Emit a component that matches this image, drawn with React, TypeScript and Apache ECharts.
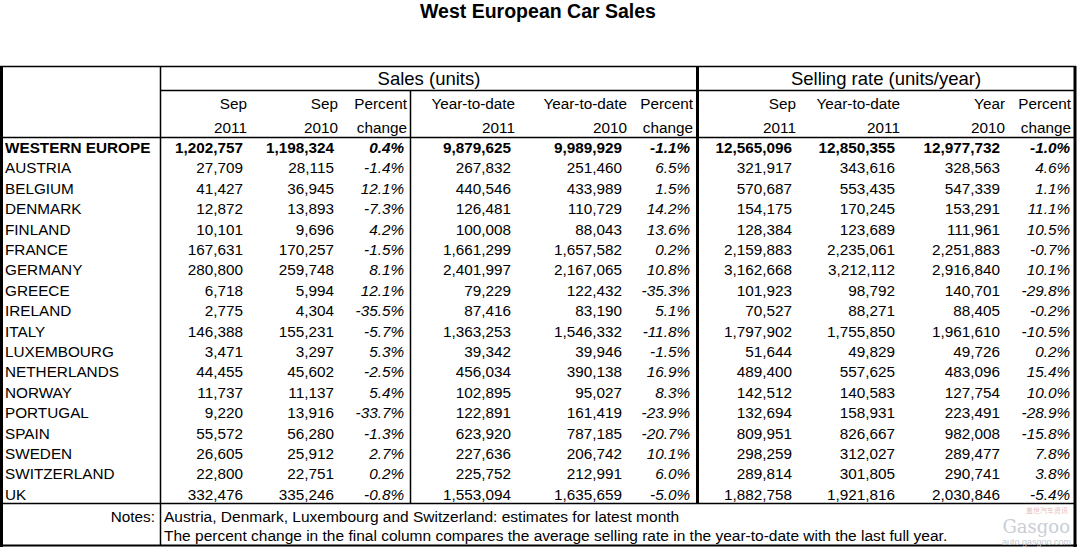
import React, { useEffect, useRef } from "react";
import * as echarts from "echarts";

// ---- Data ----
const countries = [
  "WESTERN EUROPE", "AUSTRIA", "BELGIUM", "DENMARK", "FINLAND", "FRANCE", "GERMANY", "GREECE",
  "IRELAND", "ITALY", "LUXEMBOURG", "NETHERLANDS", "NORWAY", "PORTUGAL", "SPAIN", "SWEDEN",
  "SWITZERLAND", "UK",
];
const salesSep2011 = [1202757, 27709, 41427, 12872, 10101, 167631, 280800, 6718, 2775, 146388, 3471, 44455, 11737, 9220, 55572, 26605, 22800, 332476];
const salesSep2010 = [1198324, 28115, 36945, 13893, 9696, 170257, 259748, 5994, 4304, 155231, 3297, 45602, 11137, 13916, 56280, 25912, 22751, 335246];
const salesPct = [0.4, -1.4, 12.1, -7.3, 4.2, -1.5, 8.1, 12.1, -35.5, -5.7, 5.3, -2.5, 5.4, -33.7, -1.3, 2.7, 0.2, -0.8];
const ytd2011 = [9879625, 267832, 440546, 126481, 100008, 1661299, 2401997, 79229, 87416, 1363253, 39342, 456034, 102895, 122891, 623920, 227636, 225752, 1553094];
const ytd2010 = [9989929, 251460, 433989, 110729, 88043, 1657582, 2167065, 122432, 83190, 1546332, 39946, 390138, 95027, 161419, 787185, 206742, 212991, 1635659];
const ytdPct = [-1.1, 6.5, 1.5, 14.2, 13.6, 0.2, 10.8, -35.3, 5.1, -11.8, -1.5, 16.9, 8.3, -23.9, -20.7, 10.1, 6.0, -5.0];
const rateSep2011 = [12565096, 321917, 570687, 154175, 128384, 2159883, 3162668, 101923, 70527, 1797902, 51644, 489400, 142512, 132694, 809951, 298259, 289814, 1882758];
const rateYtd2011 = [12850355, 343616, 553435, 170245, 123689, 2235061, 3212112, 98792, 88271, 1755850, 49829, 557625, 140583, 158931, 826667, 312027, 301805, 1921816];
const rateYear2010 = [12977732, 328563, 547339, 153291, 111961, 2251883, 2916840, 140701, 88405, 1961610, 49726, 483096, 127754, 223491, 982008, 289477, 290741, 2030846];
const ratePct = [-1.0, 4.6, 1.1, 11.1, 10.5, -0.7, 10.1, -29.8, -0.2, -10.5, 0.2, 15.4, 10.0, -28.9, -15.8, 7.8, 3.8, -5.4];

const title = "West European Car Sales";
const groupHeaders = ["Sales (units)", "Selling rate (units/year)"];
const headerLine1 = ["Sep", "Sep", "Percent", "Year-to-date", "Year-to-date", "Percent", "Sep", "Year-to-date", "Year", "Percent"];
const headerLine2 = ["2011", "2010", "change", "2011", "2010", "change", "2011", "2011", "2010", "change"];
const notesLabel = "Notes:";
const notes = [
  "Austria, Denmark, Luxembourg and Switzerland: estimates for latest month",
  "The percent change in the final column compares the average selling rate in the year-to-date with the last full year.",
];

// ---- Layout ----
const FONT = '"Liberation Sans", Arial, sans-serif';
const BODY_SIZE = 15.3;
const headerRight = [247, 338, 407, 515, 627, 693, 796, 900, 1005, 1071];
const valueRight = [243, 334, 404, 511, 622, 690, 792, 895, 1000, 1070];
const ROW0 = 147.5;
const ROW_H = 20.4;

const fmtNum = (v: number) => v.toLocaleString("en-US");
const fmtPct = (v: number) => v.toFixed(1) + "%";

function buildGraphics() {
  const g: any[] = [];
  const txt = (text: string, x: number, y: number, opts: any = {}) =>
    g.push({
      type: "text",
      x,
      y,
      silent: true,
      style: {
        text,
        fill: opts.fill || "#000",
        fontFamily: opts.fontFamily || FONT,
        fontSize: opts.fontSize || BODY_SIZE,
        fontWeight: opts.bold ? "bold" : "normal",
        fontStyle: opts.italic ? "italic" : "normal",
        align: opts.align || "right",
        verticalAlign: "middle",
      },
    });
  const line = (x1: number, y1: number, x2: number, y2: number, w = 1.5) =>
    g.push({
      type: "line",
      silent: true,
      shape: { x1, y1, x2, y2 },
      style: { stroke: "#000", lineWidth: w },
    });

  // title
  txt(title, 538, 11, { bold: true, fontSize: 19.5, align: "center" });

  // grid lines
  line(0, 66.5, 1076, 66.5, 1.5);
  line(160, 90.5, 1075, 90.5, 1.5);
  line(0, 137.5, 1075, 137.5, 1.5);
  line(0, 503.5, 1075, 503.5, 1.5);
  line(0, 545.5, 1077, 545.5, 2);
  line(1.5, 66, 1.5, 547, 3);
  line(160.5, 66, 160.5, 546, 1.5);
  line(410.5, 90, 410.5, 504, 1.5);
  line(697.5, 66, 697.5, 504, 3);
  line(1075, 66, 1075, 547, 3);

  // group headers
  txt(groupHeaders[0], 429, 78, { fontSize: 18.5, align: "center" });
  txt(groupHeaders[1], 886, 78, { fontSize: 18.5, align: "center" });

  // column headers
  headerLine1.forEach((h, i) => txt(h, headerRight[i], 103.5));
  headerLine2.forEach((h, i) => txt(h, headerRight[i], 127.5));

  // body
  const cols = [salesSep2011, salesSep2010, salesPct, ytd2011, ytd2010, ytdPct, rateSep2011, rateYtd2011, rateYear2010, ratePct];
  const isPct = [false, false, true, false, false, true, false, false, false, true];
  countries.forEach((c, r) => {
    const y = ROW0 + r * ROW_H;
    const bold = r === 0;
    txt(c, 5, y, { bold, align: "left" });
    cols.forEach((col, ci) => {
      const v = col[r];
      txt(isPct[ci] ? fmtPct(v) : fmtNum(v), valueRight[ci], y, { bold, italic: isPct[ci] });
    });
  });

  // notes
  txt(notesLabel, 155, 516);
  txt(notes[0], 164, 516, { align: "left", fontSize: 15.5 });
  txt(notes[1], 164, 535, { align: "left", fontSize: 15.5 });

  // watermark
  txt("盖世汽车资讯", 1068, 509.5, { fontSize: 7, align: "right", fill: "#e6c0c0", fontFamily: '"Noto Sans CJK SC", sans-serif' });
  txt("Gasgoo", 1070, 526, { fontSize: 18, align: "right", fill: "#c9ced6", fontFamily: '"DejaVu Serif", serif' });
  txt("auto.gasgoo.com", 1071, 541.5, { fontSize: 9, align: "right", fill: "#c5cad3" });

  return g;
}

export default function App() {
  const ref = useRef<HTMLDivElement>(null);
  useEffect(() => {
    document.body.style.margin = "0";
    const chart = echarts.init(ref.current!, null, { renderer: "svg" });
    chart.setOption({
      animation: false,
      backgroundColor: "#ffffff",
      graphic: { elements: buildGraphics() },
    });
    return () => chart.dispose();
  }, []);
  return <div ref={ref} style={{ width: 1077, height: 547 }} />;
}
